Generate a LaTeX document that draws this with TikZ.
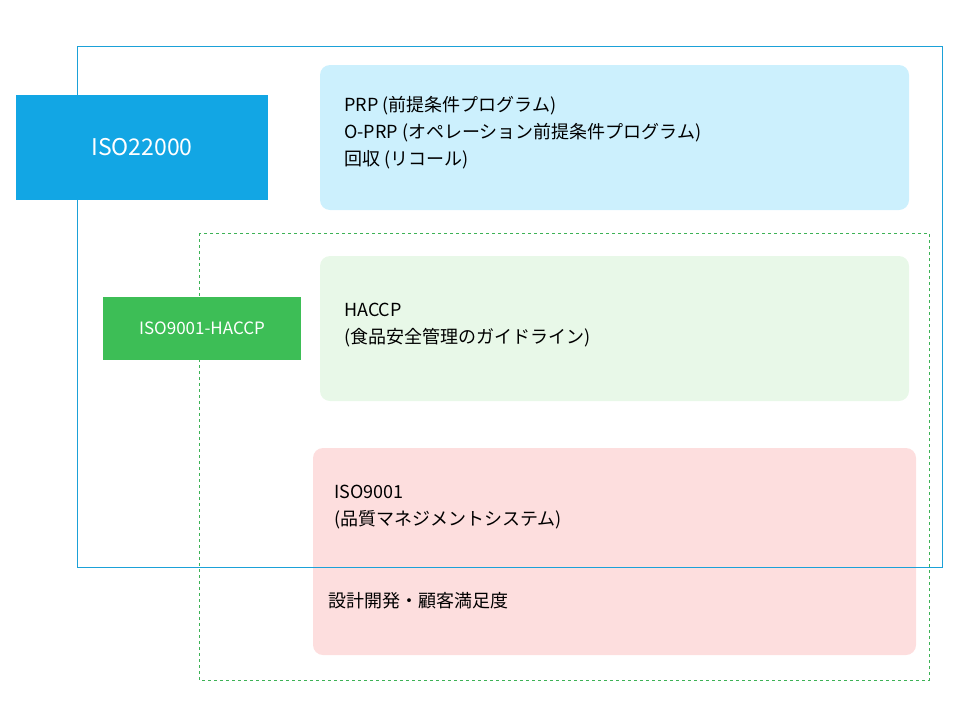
\documentclass[tikz,border=0pt]{standalone}
\usepackage{fontspec}
\setmainfont{Noto Sans CJK JP}
\begin{document}
\begin{tikzpicture}[x=1pt,y=-1pt,
  panel/.style={rounded corners=10pt,draw=none},
  txt/.style={anchor=north west,align=left,font=\fontsize{18}{27}\selectfont,inner sep=0pt}]
\useasboundingbox (0,0) rectangle (960,720);
\fill[panel,fill=cyan!20!white,fill={rgb,255:red,204;green,240;blue,253}] (320,65) rectangle (909,210);
\fill[panel,fill={rgb,255:red,232;green,248;blue,232}] (320,256) rectangle (909,401);
\fill[panel,fill={rgb,255:red,253;green,222;blue,222}] (313,448) rectangle (916,655);
\draw[draw={rgb,255:red,27;green,161;blue,216},line width=0.8pt] (77,46) rectangle (942,567);
\draw[draw={rgb,255:red,61;green,178;blue,86},dashed,line width=0.6pt] (199,233) rectangle (929,680);
\node[fill={rgb,255:red,18;green,166;blue,228},minimum width=252pt,minimum height=105pt,text=white,font=\fontsize{23}{27}\selectfont] (iso22) at (142,147.5) {ISO22000};
\node[fill={rgb,255:red,61;green,190;blue,86},minimum width=198pt,minimum height=63pt,text=white,font=\fontsize{17}{20}\selectfont] (haccpl) at (202,328.5) {ISO9001-HACCP};
\node[txt] (t1) at (344,96) {PRP (前提条件プログラム)\\O-PRP (オペレーション前提条件プログラム)\\回収 (リコール)};
\node[txt] (t2) at (344,303) {HACCP\\(食品安全管理のガイドライン)};
\node[txt] (t3) at (334,485) {ISO9001\\ (品質マネジメントシステム)};
\node[txt] (t4) at (328,592) {設計開発・顧客満足度};
\end{tikzpicture}
\end{document}
